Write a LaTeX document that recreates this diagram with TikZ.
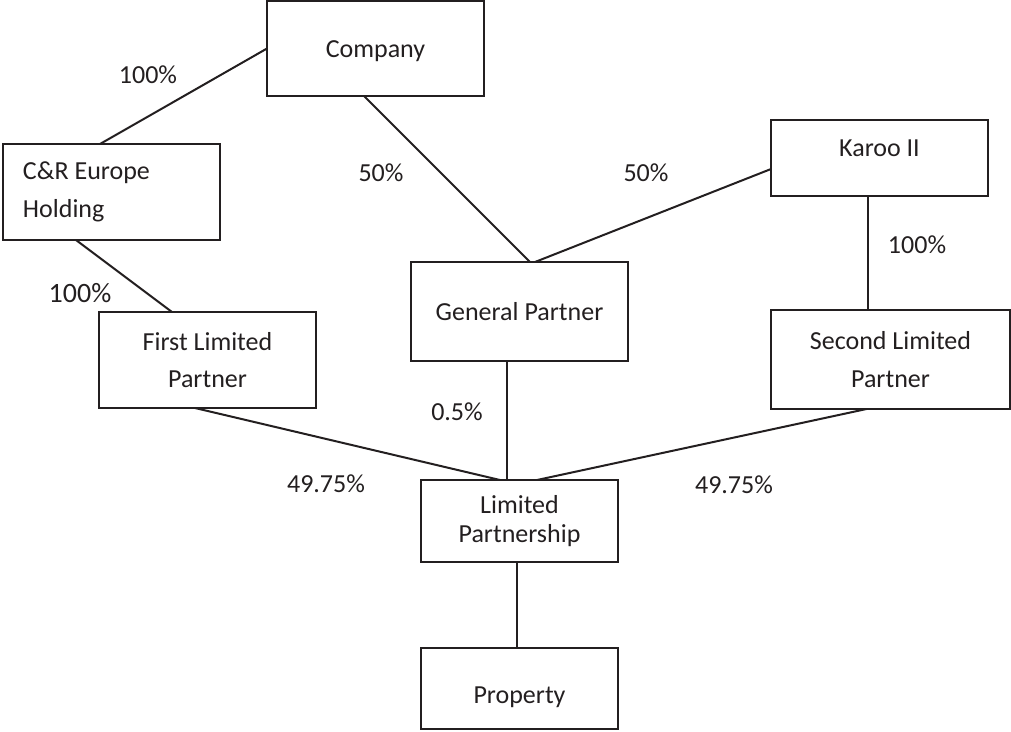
\documentclass[tikz,border=0pt]{standalone}
\usepackage{fontspec}
\setmainfont{Carlito}
\definecolor{ink}{HTML}{231F20}
\begin{document}
\begin{tikzpicture}[x=1pt,y=-1pt,
  box/.style={draw=ink, line width=2pt, inner sep=0pt, outer sep=0pt, text=ink,
    font=\fontsize{26}{37.5}\selectfont, align=center},
  pct/.style={text=ink, inner sep=0pt, font=\fontsize{26}{31}\selectfont},
  link/.style={draw=ink, line width=2pt}]
\useasboundingbox (0,0) rectangle (1011,731);

% boxes
\node[box, minimum width=217, minimum height=95, text height=23, text depth=6] (company) at (375.5,48.5) {Company};
\node[box, minimum width=217, minimum height=96, text width=177, align=flush left] (cr) at (111.5,192) {C\&R Europe\\Holding};
\node[box, minimum width=217, minimum height=76, text height=18, text depth=22] (karoo) at (879.5,158) {Karoo II};
\node[box, minimum width=217, minimum height=99] (gp) at (519.5,311.5) {General Partner};
\node[box, minimum width=217, minimum height=96] (flp) at (207.5,360) {First Limited\\Partner};
\node[box, minimum width=239, minimum height=99] (slp) at (890.5,359.5) {Second Limited\\Partner};
\node[box, minimum width=197, minimum height=82, font=\fontsize{26}{29}\selectfont] (lp) at (519.5,521) {Limited\\Partnership};
\node[box, minimum width=197, minimum height=81, text height=34, text depth=5] (prop) at (519.5,688.5) {Property};

% connectors
\draw[link] (company.west) -- ([xshift=-11.5]cr.north);
\draw[link] ([xshift=-11.5]company.south) -- ([xshift=10.5]gp.north);
\draw[link] ([yshift=-11]karoo.west) -- ([xshift=15.5]gp.north);
\draw[link] ([xshift=-11.5]karoo.south) -- ([xshift=-11.5]karoo.south |- slp.north);
\draw[link] ([xshift=-35.5]cr.south) -- ([xshift=-35.5]flp.north);
\draw[link] ([xshift=-12.5]flp.south) -- ([xshift=-19.5]lp.north);
\draw[link] ([xshift=-12.5]gp.south) -- ([xshift=-12.5]lp.north);
\draw[link] ([xshift=-24]slp.south) -- ([xshift=17.5]lp.north);
\draw[link] ([xshift=-2.5]lp.south) -- ([xshift=-2.5]prop.north);

% labels
\node[pct] (p1) at (148,75) {100\%};
\node[pct] (p2) at (381,173) {50\%};
\node[pct] (p3) at (646,173) {50\%};
\node[pct] (p4) at (917,245) {100\%};
\node[pct, font=\fontsize{28}{33}\selectfont] (p5) at (80,293) {100\%};
\node[pct] (p6) at (457,412) {0.5\%};
\node[pct] (p7) at (326,484) {49.75\%};
\node[pct] (p8) at (734,485) {49.75\%};
\end{tikzpicture}
\end{document}
